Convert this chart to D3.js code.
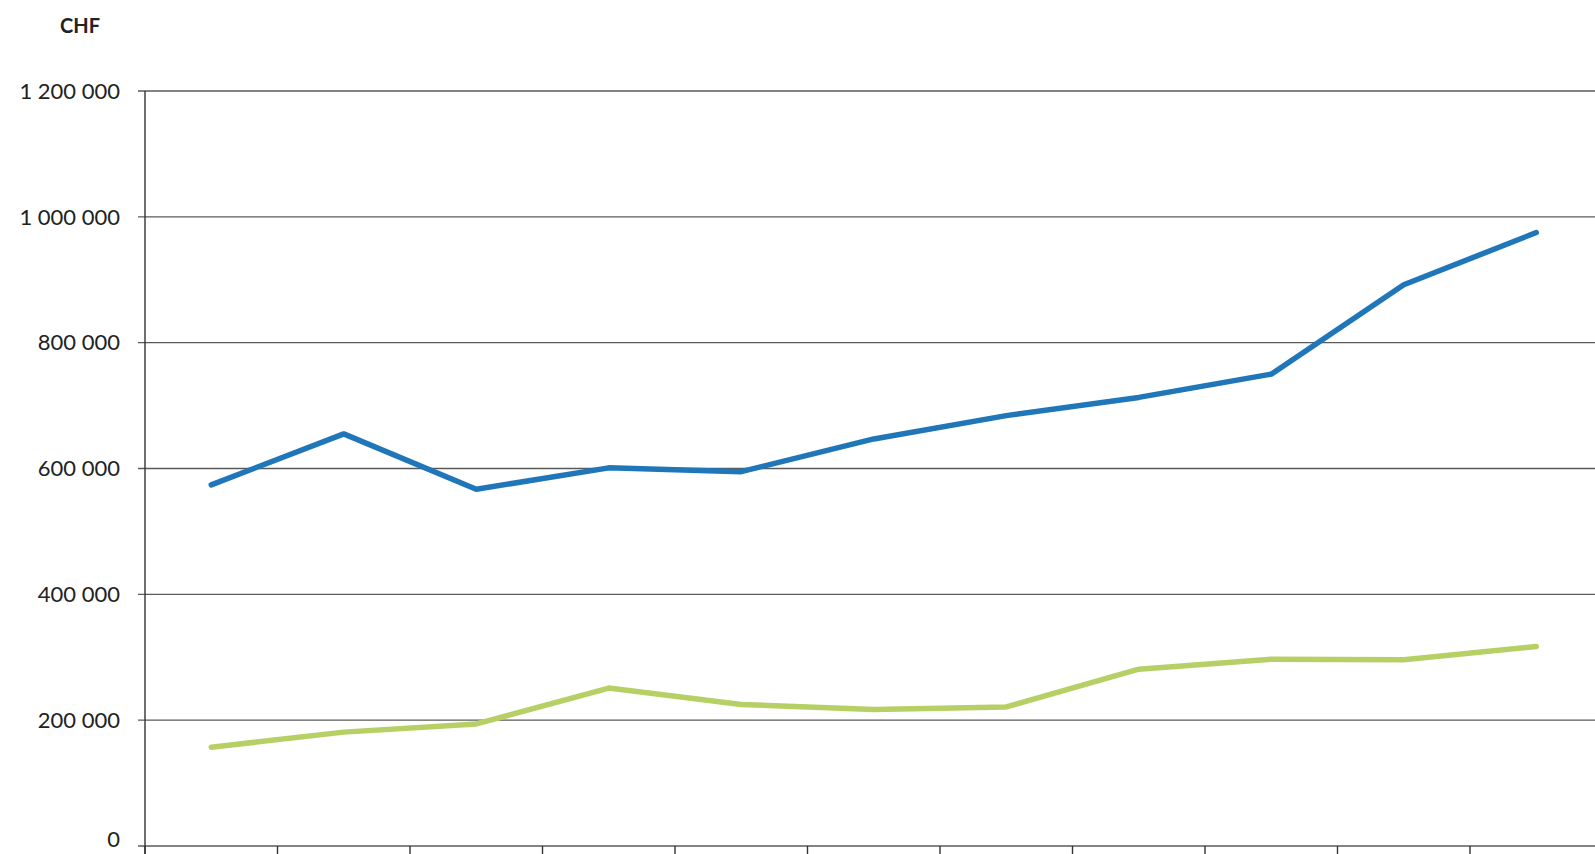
<!DOCTYPE html>
<html>
<head>
<meta charset="utf-8">
<script src="https://cdn.jsdelivr.net/npm/d3@7"></script>
<style>
  body { margin: 0; background: #fff; overflow: hidden; }
  svg { display: block; font-family: Lato, 'Open Sans', sans-serif; }
</style>
</head>
<body>
<div id="graph"></div>
<script>
// categories (labels are cut off below the picture)
var categories = ['1', '2', '3', '4', '5', '6', '7', '8', '9', '10', '11']
var blueValues = [574000, 655000, 567000, 601000, 595000, 647000, 684000, 713000, 750000, 892000, 975000]
var greenValues = [157000, 181000, 194000, 251000, 225000, 217000, 221000, 281000, 297000, 296000, 317000]
var yTicks = [0, 200000, 400000, 600000, 800000, 1000000, 1200000]

var width = 1595, height = 854
var margin = {left: 145, top: 91, bottom: 8}
var bandW = 132.5

var svg = d3.select('#graph').append('svg')
  .attr('width', width).attr('height', height)

var x = d3.scaleBand()
  .domain(categories)
  .range([margin.left, margin.left + bandW * categories.length])

var y = d3.scaleLinear()
  .domain([0, 1200000])
  .range([height - margin.bottom, margin.top])

var fmt = function(d){ return d3.format(',')(d).replace(/,/g, ' ') }

// gridlines
svg.append('g').selectAll('line')
  .data(yTicks).join('line')
  .attr('x1', margin.left - 7).attr('x2', width)
  .attr('y1', d => y(d)).attr('y2', d => y(d))
  .attr('stroke', '#5a5a5a').attr('stroke-width', 1.4)

// y labels (the 0 sits a little higher so it stays inside the picture)
svg.append('g').selectAll('text')
  .data(yTicks).join('text')
  .attr('x', 120).attr('y', d => y(d))
  .attr('dy', d => d === 0 ? '0.05em' : '0.35em')
  .attr('text-anchor', 'end')
  .style('font-size', '22px')
  .attr('fill', '#222')
  .text(fmt)

// left axis line
svg.append('line')
  .attr('x1', margin.left).attr('x2', margin.left)
  .attr('y1', y(1200000)).attr('y2', height)
  .attr('stroke', '#333').attr('stroke-width', 1.4)

// x ticks between categories
var bounds = categories.map(d => x(d)).concat([x.range()[1]])
svg.append('g').selectAll('line')
  .data(bounds).join('line')
  .attr('x1', d => d).attr('x2', d => d)
  .attr('y1', y(0)).attr('y2', y(0) + 12)
  .attr('stroke', '#333').attr('stroke-width', 1.4)

// CHF title
svg.append('text')
  .attr('x', 60).attr('y', 33)
  .style('font-size', '20px').style('font-weight', 'bold')
  .attr('fill', '#222')
  .text('CHF')

var line = d3.line()
  .x((d, i) => x(categories[i]) + x.bandwidth() / 2)
  .y(d => y(d))

svg.append('path')
  .attr('d', line(greenValues))
  .attr('fill', 'none')
  .attr('stroke', '#b7d066')
  .attr('stroke-width', 5.5)
  .attr('stroke-linejoin', 'round')
  .attr('stroke-linecap', 'round')

svg.append('path')
  .attr('d', line(blueValues))
  .attr('fill', 'none')
  .attr('stroke', '#1f76b9')
  .attr('stroke-width', 5.5)
  .attr('stroke-linejoin', 'round')
  .attr('stroke-linecap', 'round')
</script>
</body>
</html>
